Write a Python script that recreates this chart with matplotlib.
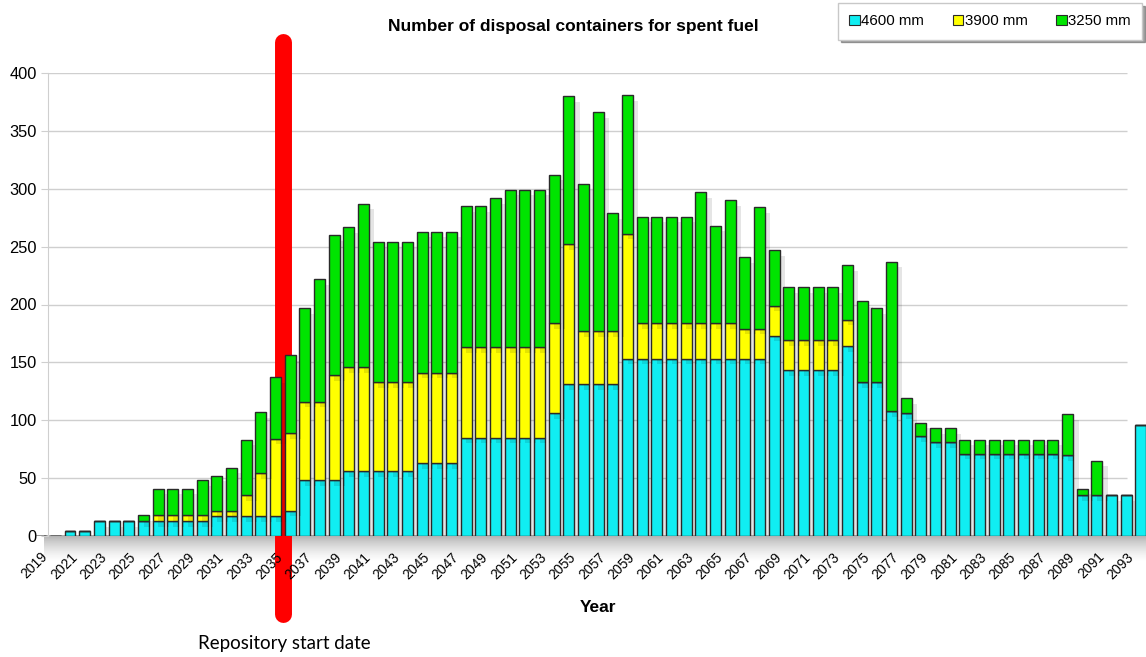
import numpy as np
from matplotlib import pyplot as plt
from matplotlib import patheffects as pe
from matplotlib.patches import Patch

# Data: number of containers per year, by container length

years = list(range(2019, 2095))
c4600 = [0, 0, 4, 4, 13, 13, 13, 13, 13, 13,
         13, 13, 17, 17, 17, 17, 17, 22, 48, 48,
         48, 56, 56, 56, 56, 56, 63, 63, 63, 85,
         85, 85, 85, 85, 85, 106, 131, 131, 131, 131,
         153, 153, 153, 153, 153, 153, 153, 153, 153, 153,
         173, 143, 143, 143, 143, 164, 133, 133, 108, 106,
         86, 81, 81, 71, 71, 71, 71, 71, 71, 71,
         70, 35, 35, 35, 35, 96]
c3900 = [0, 0, 0, 0, 0, 0, 0, 0, 5, 5,
         5, 5, 5, 5, 18, 37, 67, 67, 68, 68,
         91, 90, 90, 77, 77, 77, 78, 78, 78, 78,
         78, 78, 78, 78, 78, 78, 121, 46, 46, 46,
         108, 31, 31, 31, 31, 31, 31, 31, 26, 26,
         26, 26, 26, 26, 26, 23, 0, 0, 0, 0,
         0, 0, 0, 0, 0, 0, 0, 0, 0, 0,
         0, 0, 0, 0, 0, 0]
c3250 = [0, 0, 0, 0, 0, 0, 0, 5, 23, 23,
         23, 30, 30, 37, 48, 53, 53, 67, 81, 106,
         121, 121, 141, 121, 121, 121, 122, 122, 122, 122,
         122, 129, 136, 136, 136, 128, 128, 127, 189, 102,
         120, 92, 92, 92, 92, 113, 84, 106, 62, 105,
         48, 46, 46, 46, 46, 47, 70, 64, 129, 13,
         12, 12, 12, 12, 12, 12, 12, 12, 12, 12,
         35, 6, 30, 0, 0, 0]
series = [('4600 mm', c4600, '#10EEF2'),
          ('3900 mm', c3900, '#FFFF00'),
          ('3250 mm', c3250, '#00E400')]
start_year = 2035.54  # red marker sits between 2035 and 2036

plt.rcParams['font.family'] = ['Liberation Sans', 'DejaVu Sans']

fig = plt.figure(figsize=(11.46, 6.57), dpi=100)
ax = fig.add_axes([33.4 / 1146, 121 / 657, 1112.6 / 1146, 463 / 657])

x = np.arange(len(years))

# gridlines (stop short of the last bar, like the original)
for v in range(0, 401, 50):
    ax.hlines(v, 0.5, 74.05, color='#cfcfcf', lw=1, zorder=0)

# soft shadow band under the baseline
grad = np.linspace(0.45, 0.0, 50).reshape(-1, 1)
ax.imshow(grad, extent=[0.2, 75.35, -22, 0], aspect='auto', cmap='Greys',
          vmin=0, vmax=1, alpha=0.9, clip_on=False, zorder=0.5,
          interpolation='bilinear')

# red "repository start" bar, behind the columns
ax.plot([start_year - 2019] * 2, [427, -67], color='#ff0000', lw=12.2,
        solid_capstyle='round', clip_on=False, zorder=1)

# stacked columns
shadow = [pe.SimplePatchShadow(offset=(4, -4), shadow_rgbFace='#000000', alpha=0.1),
          pe.Normal()]
bottom = np.zeros(len(years))
handles = []
for name, vals, col in series:
    vals = np.array(vals)
    bars = ax.bar(x, vals, 0.74, bottom=bottom, color=col, edgecolor='#2a2a2a',
                  linewidth=1, zorder=3)
    for b in bars:
        b.set_path_effects(shadow)
    handles.append(Patch(facecolor=col, edgecolor='#2a2a2a', linewidth=0.8, label=name))
    bottom += vals

ax.set_xlim(-0.5, 75.35)
ax.set_ylim(0, 400)
ax.set_yticks(range(0, 401, 50))
ax.set_xticks(x[::2])
ax.set_xticklabels([str(y) for y in years[::2]], rotation=45, ha='right',
                   va='top', rotation_mode='anchor', fontsize=10)
ax.tick_params(axis='x', length=0, pad=10)
ax.tick_params(axis='y', length=5, color='#cfcfcf', labelsize=11.8, pad=3)

for s in ['top', 'right', 'bottom']:
    ax.spines[s].set_visible(False)
ax.spines['left'].set_position(('data', 0.5))
ax.spines['left'].set_color('#cfcfcf')

fig.text(0.5, 1 - 27 / 657, 'Number of disposal containers for spent fuel',
         ha='center', va='center', fontsize=12.5, fontweight='bold')
fig.text(598 / 1146, 1 - 607 / 657, 'Year', ha='center', va='center',
         fontsize=12.5, fontweight='bold')
fig.text(284 / 1146, 1 - 643 / 657, 'Repository start date', ha='center',
         va='center', fontsize=13.5, family=['Lato', 'DejaVu Sans'])

leg = fig.legend(handles=handles, loc='upper left',
                 bbox_to_anchor=(838 / 1146, 1 - 3 / 657),
                 ncol=3, fontsize=10.8, handlelength=0.7, handleheight=0.7,
                 handletextpad=0.1, columnspacing=1.9, borderpad=0.75,
                 borderaxespad=0, fancybox=False, shadow=True, edgecolor='#c8c8c8')

fig.savefig('out.png', dpi=100)
